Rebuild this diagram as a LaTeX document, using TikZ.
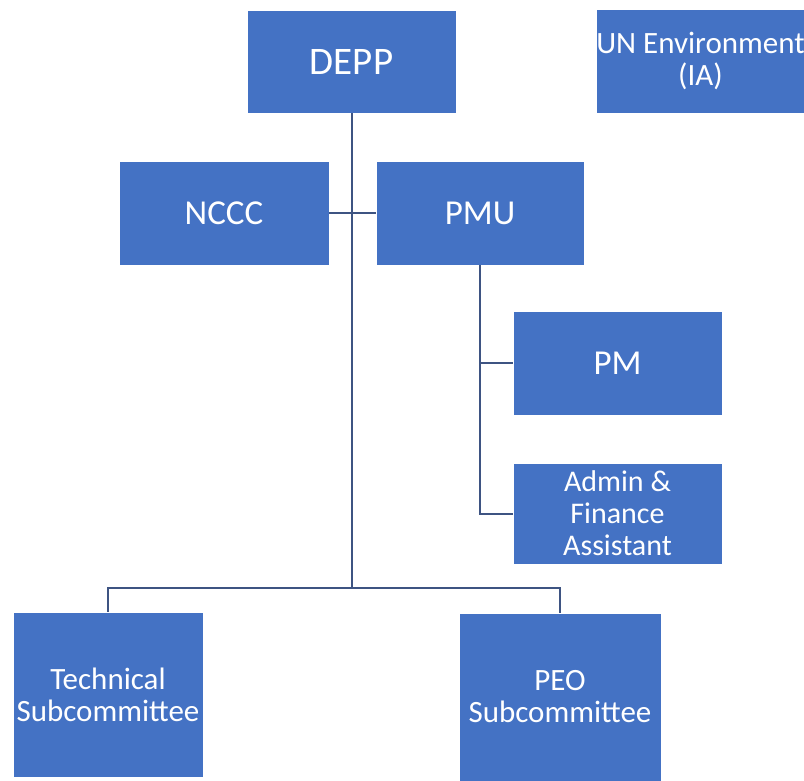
\documentclass[tikz,border=0pt]{standalone}
\usepackage{fontspec}
\setmainfont{Carlito}
\definecolor{boxblue}{RGB}{68,114,196}
\definecolor{linkblue}{RGB}{62,84,130}
\begin{document}
\begin{tikzpicture}[x=1pt,y=-1pt,
  unit/.style={draw=white, line width=0.6pt, fill=boxblue, text=white,
    inner sep=0pt, align=center, anchor=center},
  big/.style={font=\fontsize{39}{40}\selectfont},
  mid/.style={font=\fontsize{35}{36}\selectfont},
  small/.style={font=\fontsize{31}{32}\selectfont},
  conn/.style={draw=linkblue, line width=2pt}]
\useasboundingbox (0,0) rectangle (804,780);

% top level
\node[unit, big, minimum width=209pt, minimum height=103pt] (depp) at (351.5,61.5) {DEPP};
\node[unit, small, minimum width=209pt, minimum height=104pt] (un) at (700.5,61) {UN Environment\\(IA)};

% second level
\node[unit, mid, minimum width=210pt, minimum height=104pt] (nccc) at (224,213) {NCCC};
\node[unit, mid, minimum width=208pt, minimum height=104pt] (pmu) at (480,213) {PMU};

% project management unit staff
\node[unit, mid, minimum width=209pt, minimum height=104pt] (pm) at (617.5,363) {PM};
\node[unit, small, font=\fontsize{30}{32}\selectfont, minimum width=209pt, minimum height=101pt] (admin) at (617.5,513.5) {Admin \&\\Finance\\Assistant};

% subcommittees
\node[unit, small, minimum width=190pt, minimum height=165pt] (tech) at (108,694.5) {Technical\\Subcommittee};
\node[unit, small, minimum width=202pt, minimum height=168pt] (peo) at (560,697) {PEO\\Subcommittee};

% connectors
\coordinate (bus) at (depp.south |- 0,588);
\draw[conn] (depp.south) -- (bus);
\draw[conn] (tech.north) |- (bus) -| (peo.north);
\draw[conn] (nccc.east) -- (pmu.west);
\draw[conn] (pmu.south) |- (admin.west);
\draw[conn] (pmu.south |- pm.west) -- (pm.west);
\end{tikzpicture}
\end{document}
